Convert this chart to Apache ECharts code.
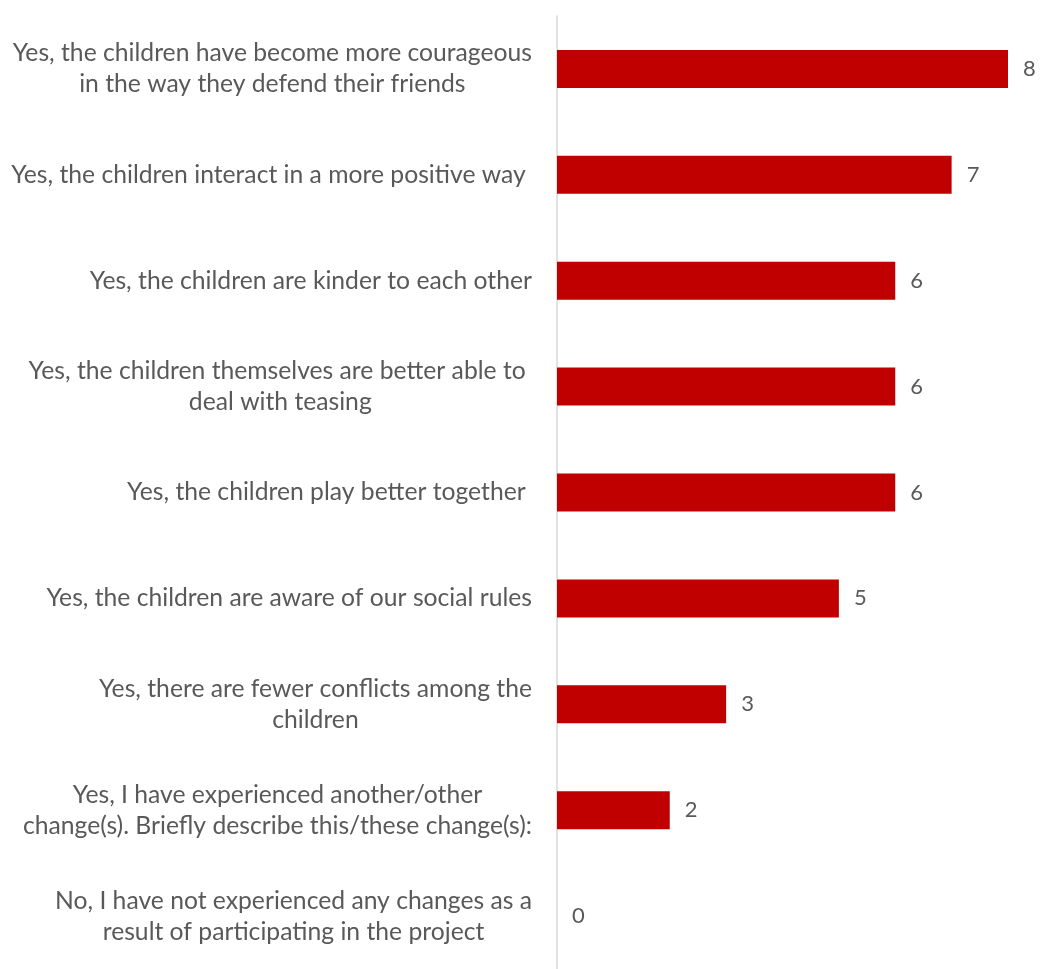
<!DOCTYPE html>
<html>
<head>
<meta charset="utf-8">
<script src="https://cdn.jsdelivr.net/npm/echarts@6/dist/echarts.min.js"></script>
<style>
  html, body { margin: 0; padding: 0; background: #fff; }
  #chart { width: 1040px; height: 969px; }
</style>
</head>
<body>
<div id="chart"></div>
<script>
// Survey answers, top to bottom; '\n' marks a line break in the label
const categories = [
  'Yes, the children have become more courageous\nin the way they defend their friends',
  'Yes, the children interact in a more positive way ',
  'Yes, the children are kinder to each other',
  'Yes, the children themselves are better able to \ndeal with teasing',
  'Yes, the children play better together ',
  'Yes, the children are aware of our social rules',
  'Yes, there are fewer conflicts among the\nchildren',
  'Yes, I have experienced another/other\nchange(s). Briefly describe this/these change(s):',
  'No, I have not experienced any changes as a\nresult of participating in the project'
];
const counts = [8, 7, 6, 6, 6, 5, 3, 2, 0];

const FONT = 'Lato, "Open Sans", sans-serif';
const TEXT = '#595959';

const chart = echarts.init(document.getElementById('chart'), null, { renderer: 'canvas' });

chart.setOption({
  animation: false,
  backgroundColor: '#ffffff',
  grid: { left: 557, right: 32, top: 16, height: 963, containLabel: false },
  xAxis: {
    type: 'value',
    min: 0,
    max: 8,
    show: false
  },
  yAxis: {
    type: 'category',
    inverse: true,
    data: categories,
    axisTick: { show: false },
    axisLine: { show: true, lineStyle: { color: '#d9d9d9', width: 1.5 } },
    axisLabel: {
      margin: 25,
      align: 'right',
      color: TEXT,
      fontFamily: FONT,
      fontSize: 24.7,
      lineHeight: 31,
      // centre each line inside the label block
      formatter: v => v.split('\n').map(l => '{c|' + l + '}').join('\n'),
      rich: {
        c: { align: 'center', color: TEXT, fontFamily: FONT, fontSize: 24.7, lineHeight: 31 }
      }
    }
  },
  series: [{
    type: 'bar',
    data: counts,
    barWidth: 38,
    itemStyle: { color: '#c00000' },
    label: {
      show: true,
      position: 'right',
      distance: 15,
      color: TEXT,
      fontFamily: FONT,
      fontSize: 22
    }
  }]
});
</script>
</body>
</html>
